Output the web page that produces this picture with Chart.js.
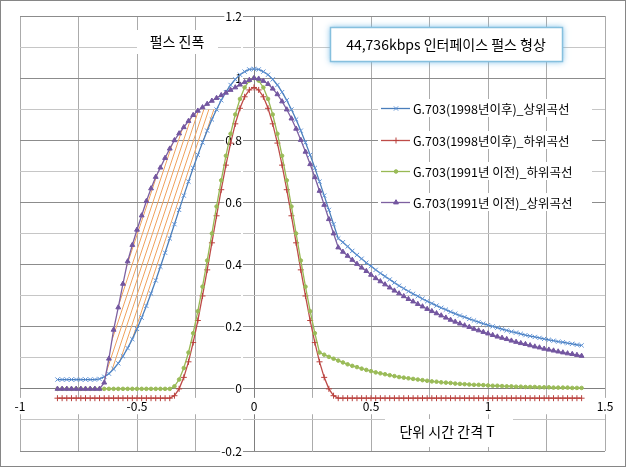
<!DOCTYPE html>
<html>
<head>
<meta charset="utf-8">
<script src="https://cdn.jsdelivr.net/npm/chart.js@4.4.1/dist/chart.umd.min.js"></script>
<style>
  html, body { margin: 0; padding: 0; background: #fff; }
  canvas { display: block; }
</style>
</head>
<body>
<canvas id="pulseChart" width="627" height="468"></canvas>
<script>
// time in unit intervals T (sample points of the curves)
const tValues = [
  -0.84,-0.82,-0.8,-0.78,-0.76,-0.74,-0.72,-0.7,-0.68,-0.66,-0.64,-0.62,-0.6,-0.58,-0.56,-0.54,-0.52,-0.5,-0.48,-0.46,
  -0.44,-0.42,-0.4,-0.38,-0.36,-0.34,-0.32,-0.3,-0.28,-0.26,-0.24,-0.22,-0.2,-0.18,-0.16,-0.14,-0.12,-0.1,-0.08,-0.06,
  -0.04,-0.02,0,0.02,0.04,0.06,0.08,0.1,0.12,0.14,0.16,0.18,0.2,0.22,0.24,0.26,0.28,0.3,0.32,0.34,
  0.36,0.38,0.4,0.42,0.44,0.46,0.48,0.5,0.52,0.54,0.56,0.58,0.6,0.62,0.64,0.66,0.68,0.7,0.72,0.74,
  0.76,0.78,0.8,0.82,0.84,0.86,0.88,0.9,0.92,0.94,0.96,0.98,1,1.02,1.04,1.06,1.08,1.1,1.12,1.14,
  1.16,1.18,1.2,1.22,1.24,1.26,1.28,1.3,1.32,1.34,1.36,1.38,1.4
];

// G.703 (1998 이후) 상위곡선
const upper1998 = [
  0.03,0.03,0.03,0.03,0.03,0.03,0.03,0.03,0.03,0.032,0.039,0.049,0.064,0.082,0.105,0.131,0.160,0.193,0.229,0.267,
  0.307,0.349,0.393,0.438,0.484,0.530,0.576,0.622,0.667,0.711,0.753,0.793,0.831,0.867,0.899,0.929,0.955,0.978,0.996,1.011,
  1.021,1.028,1.030,1.028,1.021,1.011,0.996,0.978,0.955,0.929,0.899,0.867,0.831,0.793,0.753,0.711,0.667,0.622,0.576,0.530,
  0.484,0.472,0.458,0.444,0.431,0.419,0.406,0.395,0.383,0.372,0.362,0.352,0.342,0.332,0.323,0.314,0.306,0.298,0.290,0.282,
  0.275,0.268,0.261,0.255,0.248,0.242,0.236,0.231,0.225,0.220,0.215,0.210,0.205,0.201,0.197,0.192,0.188,0.184,0.181,0.177,
  0.173,0.170,0.167,0.164,0.161,0.158,0.155,0.152,0.150,0.147,0.145,0.142,0.140
];

// G.703 (1998 이후) 하위곡선
const lower1998 = [
  -0.03,-0.03,-0.03,-0.03,-0.03,-0.03,-0.03,-0.03,-0.03,-0.03,-0.03,-0.03,-0.03,-0.03,-0.03,-0.03,-0.03,-0.03,-0.03,-0.03,
  -0.03,-0.03,-0.03,-0.03,-0.03,-0.022,0.000,0.037,0.087,0.149,0.220,0.299,0.383,0.470,0.557,0.641,0.720,0.791,0.853,0.903,
  0.940,0.962,0.970,0.962,0.940,0.903,0.853,0.791,0.720,0.641,0.557,0.470,0.383,0.299,0.220,0.149,0.087,0.037,0.000,-0.022,
  -0.03,-0.03,-0.03,-0.03,-0.03,-0.03,-0.03,-0.03,-0.03,-0.03,-0.03,-0.03,-0.03,-0.03,-0.03,-0.03,-0.03,-0.03,-0.03,-0.03,
  -0.03,-0.03,-0.03,-0.03,-0.03,-0.03,-0.03,-0.03,-0.03,-0.03,-0.03,-0.03,-0.03,-0.03,-0.03,-0.03,-0.03,-0.03,-0.03,-0.03,
  -0.03,-0.03,-0.03,-0.03,-0.03,-0.03,-0.03,-0.03,-0.03,-0.03,-0.03,-0.03,-0.03
];

// G.703 (1991 이전) 하위곡선
const lower1991 = [
  0,0,0,0,0,0,0,0,0,0,0,0,0,0,0,0,0,0,0,0,
  0,0,0,0,0,0.008,0.030,0.067,0.117,0.179,0.250,0.329,0.413,0.500,0.587,0.671,0.750,0.821,0.883,0.933,
  0.970,0.992,1.000,0.992,0.970,0.933,0.883,0.821,0.750,0.671,0.587,0.500,0.413,0.329,0.250,0.179,0.117,0.110,0.103,0.097,
  0.091,0.085,0.079,0.074,0.070,0.065,0.061,0.057,0.053,0.050,0.047,0.044,0.041,0.038,0.036,0.034,0.032,0.030,0.028,0.026,
  0.024,0.023,0.021,0.020,0.019,0.017,0.016,0.015,0.014,0.013,0.013,0.012,0.011,0.010,0.010,0.009,0.008,0.008,0.007,0.007,
  0.006,0.006,0.006,0.005,0.005,0.005,0.004,0.004,0.004,0.004,0.003,0.003,0.003
];

// G.703 (1991 이전) 상위곡선
const upper1991 = [
  0,0,0,0,0,0,0,0,0,0,0.02,0.097,0.190,0.262,0.338,0.410,0.463,0.512,0.558,0.604,
  0.645,0.682,0.712,0.743,0.773,0.800,0.822,0.842,0.862,0.881,0.895,0.906,0.917,0.927,0.936,0.945,0.953,0.962,0.970,0.979,
  0.987,0.994,1.000,0.998,0.991,0.981,0.966,0.948,0.925,0.899,0.870,0.837,0.801,0.763,0.723,0.681,0.637,0.592,0.546,0.500,
  0.455,0.441,0.428,0.415,0.402,0.390,0.379,0.367,0.356,0.346,0.336,0.326,0.316,0.307,0.298,0.289,0.281,0.273,0.265,0.257,
  0.250,0.243,0.236,0.229,0.222,0.216,0.210,0.204,0.199,0.193,0.188,0.183,0.178,0.173,0.168,0.164,0.160,0.155,0.151,0.147,
  0.144,0.140,0.136,0.133,0.129,0.126,0.123,0.120,0.117,0.114,0.112,0.109,0.106
];

const seriesNames = [
  'G.703(1998년이후)_상위곡선',
  'G.703(1998년이후)_하위곡선',
  'G.703(1991년 이전)_하위곡선',
  'G.703(1991년 이전)_상위곡선'
];
const chartTitle = '44,736kbps 인터페이스 펄스 형상';
const yTitle = '펄스 진폭';
const xTitle = '단위 시간 간격 T';
// T range of the hatched band between the two upper curves, and its top amplitude
const hatchT = [-0.64, -0.16];
const hatchTop = 0.9;

const FONT = "'Noto Sans CJK KR', 'Malgun Gothic', sans-serif";
Chart.defaults.font.family = FONT;

// line colour, marker colour, marker style, marker radius, draw order (0 = on top)
const looks = [
  { line: '#4A7EBB', mark: '#5E92D6', style: 'crossRot', r: 3,   order: 3 },
  { line: '#BE4B48', mark: '#B9403D', style: 'cross',    r: 3,   order: 2 },
  { line: '#98B954', mark: '#9ABB58', style: 'circle',   r: 1.8, order: 1 },
  { line: '#7D60A0', mark: '#7356A0', style: 'triangle', r: 2.8, order: 0 }
];
const seriesValues = [upper1998, lower1998, lower1991, upper1991];

const datasets = seriesValues.map((vals, i) => ({
  label: seriesNames[i],
  data: tValues.map((t, j) => ({ x: t, y: vals[j] })),
  borderColor: looks[i].line,
  borderWidth: 1.3,
  backgroundColor: looks[i].mark,
  pointStyle: looks[i].style,
  pointRadius: looks[i].r,
  pointBorderColor: looks[i].mark,
  pointBackgroundColor: looks[i].mark,
  pointBorderWidth: 1,
  tension: 0,
  order: looks[i].order
}));

// orange hatching between the 1991 and 1998 upper curves
const hatchPlugin = {
  id: 'hatch',
  beforeDatasetsDraw(chart) {
    const { ctx, chartArea, scales } = chart;
    const up = chart.getDatasetMeta(3).data;
    const bl = chart.getDatasetMeta(0).data;
    const i0 = tValues.indexOf(hatchT[0]);
    const i1 = tValues.indexOf(hatchT[1]);
    ctx.save();
    ctx.beginPath();
    for (let i = i0; i <= i1; i++) ctx.lineTo(up[i].x, up[i].y);
    for (let i = i1; i >= i0; i--) ctx.lineTo(bl[i].x, bl[i].y);
    ctx.closePath();
    ctx.clip();
    const yTop = scales.y.getPixelForValue(hatchTop);
    ctx.beginPath();
    ctx.rect(chartArea.left, yTop, chartArea.width, chartArea.bottom - yTop);
    ctx.clip();
    ctx.strokeStyle = '#F0A35E';
    ctx.lineWidth = 1;
    const h = chartArea.bottom - chartArea.top;
    ctx.beginPath();
    for (let x0 = chartArea.left - 200; x0 < chartArea.right; x0 += 5) {
      ctx.moveTo(x0, chartArea.bottom);
      ctx.lineTo(x0 + h / 3.0, chartArea.top);
    }
    ctx.stroke();
    ctx.restore();
  }
};

function whiteText(ctx, text, cx, cy, box, size) {
  ctx.fillStyle = '#fff';
  ctx.fillRect(box[0], box[1], box[2], box[3]);
  ctx.fillStyle = '#000';
  ctx.font = size + 'px ' + FONT;
  ctx.textAlign = 'center';
  ctx.textBaseline = 'middle';
  ctx.fillText(text, cx, cy);
}

const decorPlugin = {
  id: 'decor',
  afterDraw(chart) {
    const ctx = chart.ctx;
    ctx.save();
    // axis titles
    whiteText(ctx, yTitle, 177, 42, [137, 30, 81, 24], 14);
    whiteText(ctx, xTitle, 447, 432, [385, 419, 128, 28], 14);

    // chart title box with glow
    ctx.save();
    ctx.fillStyle = '#fff';
    ctx.shadowColor = 'rgba(110,185,230,0.9)';
    ctx.shadowBlur = 6;
    ctx.fillRect(330, 27, 233, 35);
    ctx.restore();
    ctx.strokeStyle = '#86C0DE';
    ctx.lineWidth = 1.5;
    ctx.strokeRect(330.5, 27.5, 232, 34);
    ctx.fillStyle = '#000';
    ctx.font = '14px ' + FONT;
    ctx.textAlign = 'center';
    ctx.textBaseline = 'middle';
    ctx.fillText(chartTitle, 446, 45);

    // legend
    const rows = [108, 140, 171, 202];
    seriesNames.forEach((name, i) => {
      const y = rows[i];
      ctx.fillStyle = '#fff';
      ctx.fillRect(378, y - 9, 214, 18);
      ctx.strokeStyle = looks[i].line;
      ctx.lineWidth = 1.3;
      ctx.beginPath();
      ctx.moveTo(381, y + 0.5);
      ctx.lineTo(410, y + 0.5);
      ctx.stroke();
      ctx.strokeStyle = looks[i].mark;
      ctx.fillStyle = looks[i].mark;
      ctx.lineWidth = 1;
      Chart.helpers.drawPoint(ctx, {
        pointStyle: looks[i].style, radius: looks[i].r, rotation: 0, borderWidth: 1
      }, 396, y + 0.5);
      ctx.fillStyle = '#000';
      ctx.font = '12.5px ' + FONT;
      ctx.textAlign = 'left';
      ctx.textBaseline = 'middle';
      ctx.fillText(name, 413, y + 1);
    });

    // outer frame
    ctx.strokeStyle = '#868686';
    ctx.lineWidth = 1;
    ctx.strokeRect(0.5, 0.5, 625, 466);
    ctx.restore();
  }
};

const isEven = v => Math.round(v * 10) % 2 === 0;

new Chart(document.getElementById('pulseChart').getContext('2d'), {
  type: 'line',
  data: { datasets: datasets },
  plugins: [hatchPlugin, decorPlugin],
  options: {
    responsive: false,
    animation: false,
    devicePixelRatio: 1,
    layout: { padding: { left: 20, top: 16, right: 22, bottom: 17 } },
    plugins: { legend: { display: false }, tooltip: { enabled: false } },
    scales: {
      x: {
        type: 'linear',
        min: -1, max: 1.5,
        position: { y: 0 },
        grid: {
          color: c => (c.tick && Math.abs(c.tick.value) < 1e-9) ? '#7f7f7f' : '#ababab',
          tickColor: 'rgba(0,0,0,0)',
          tickLength: 8
        },
        border: { display: false },
        ticks: {
          stepSize: 0.25,
          autoSkip: false,
          maxRotation: 0,
          padding: 2,
          color: '#000',
          font: { size: 12 },
          showLabelBackdrop: true,
          backdropColor: '#fff',
          backdropPadding: 1,
          callback: v => (Math.round(v * 4) % 2 === 0) ? String(Math.round(v * 10) / 10) : ''
        }
      },
      y: {
        type: 'linear',
        min: -0.2, max: 1.2,
        // labels sit 12px left of the T = 0 line (the line itself is the x grid line at 0)
        position: { x: -0.0514 },
        grid: {
          color: c => {
            const v = c.tick ? c.tick.value : 1;
            if (Math.abs(v) < 1e-9) return '#7f7f7f';
            return isEven(v) ? '#8c8c8c' : '#c6c6c6';
          },
          tickColor: 'rgba(0,0,0,0)',
          tickLength: 12
        },
        border: { display: false },
        ticks: {
          stepSize: 0.1,
          autoSkip: false,
          color: '#000',
          font: { size: 12 },
          padding: 0,
          showLabelBackdrop: true,
          backdropColor: '#fff',
          backdropPadding: 1,
          callback: v => isEven(v) ? String(Math.round(v * 10) / 10) : ''
        }
      }
    }
  }
});
</script>
</body>
</html>
